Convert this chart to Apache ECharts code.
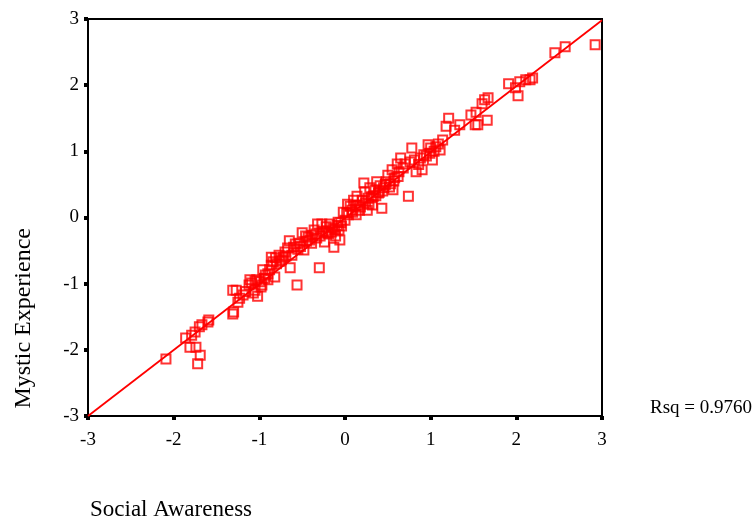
<!DOCTYPE html>
<html>
<head>
<meta charset="utf-8">
<script src="https://cdn.jsdelivr.net/npm/echarts@6/dist/echarts.min.js"></script>
<style>
  html, body { margin: 0; padding: 0; background: #fff; }
  #chart { width: 755px; height: 525px; }
</style>
</head>
<body>
<div id="chart"></div>
<script>
// Social Awareness (x) vs Mystic Experience (y)
const points = [
  [-2.09,-2.14],[-1.86,-1.82],[-1.81,-1.96],[-1.74,-1.96],[-1.72,-2.21],[-1.69,-2.08],
  [-1.79,-1.78],[-1.75,-1.73],[-1.70,-1.65],[-1.67,-1.62],[-1.60,-1.58],[-1.59,-1.55],
  [-1.31,-1.10],[-1.27,-1.10],[-1.30,-1.43],[-1.31,-1.46],[-1.25,-1.28],[-1.23,-1.22],
  [-1.19,-1.17],[-1.16,-1.12],[-1.11,-0.94],[-1.09,-0.99],[-1.05,-1.10],[-1.03,-0.94],
  [-0.99,-0.97],[-1.07,-1.14],[-1.02,-1.19],[-0.97,-1.02],[-0.93,-0.87],[-0.96,-0.79],
  [-0.90,-0.94],[-0.88,-0.79],[-0.84,-0.67],[-0.82,-0.90],[-0.86,-0.60],[-0.81,-0.61],
  [-0.77,-0.57],[-0.74,-0.64],[-0.70,-0.52],[-0.67,-0.46],[-0.65,-0.35],[-0.62,-0.57],
  [-0.64,-0.76],[-0.56,-1.02],[-0.58,-0.40],[-0.53,-0.39],[-0.50,-0.23],[-0.48,-0.49],
  [-0.46,-0.28],[-0.41,-0.34],[-0.39,-0.39],[-0.36,-0.19],[-0.34,-0.25],[-0.32,-0.10],
  [-0.30,-0.76],[-0.29,-0.28],[-0.27,-0.10],[-0.24,-0.37],[-0.22,-0.14],[-0.20,-0.23],
  [-0.18,-0.10],[-0.16,-0.22],[-0.14,-0.16],[-0.13,-0.45],[-0.11,-0.28],[-0.08,-0.07],
  [-0.07,-0.19],[-0.06,-0.34],[-0.04,-0.13],[-0.02,0.08],[0.00,-0.04],[0.02,0.07],
  [0.03,0.20],[0.06,0.17],[0.08,0.11],[0.10,0.26],[0.13,0.04],[0.14,0.32],
  [0.15,0.19],[0.17,0.11],[0.20,0.26],[0.22,0.52],[0.23,0.39],[0.26,0.11],
  [0.27,0.29],[0.29,0.45],[0.32,0.19],[0.33,0.32],[0.35,0.42],[0.37,0.54],
  [0.39,0.37],[0.41,0.48],[0.43,0.14],[0.45,0.45],[0.48,0.54],[0.50,0.64],
  [0.53,0.51],[0.55,0.72],[0.56,0.42],[0.58,0.60],[0.61,0.81],[0.63,0.69],
  [0.65,0.90],[0.68,0.75],[0.70,0.81],[0.74,0.32],[0.76,0.84],[0.78,1.05],
  [0.81,0.87],[0.83,0.69],[0.88,0.90],[0.90,0.72],[0.95,0.93],[0.97,1.10],
  [0.99,0.97],[1.02,0.87],[1.06,1.07],[1.09,1.11],[1.11,1.02],[1.14,1.17],
  [1.18,1.38],[1.21,1.50],[1.28,1.32],[1.34,1.40],[1.47,1.55],[1.53,1.59],
  [1.52,1.40],[1.55,1.40],[1.60,1.72],[1.66,1.47],[1.63,1.78],[1.67,1.81],
  [1.91,2.02],[1.99,1.96],[2.02,1.84],[2.04,2.05],[2.11,2.08],[2.16,2.08],
  [2.19,2.11],[2.45,2.49],[2.57,2.58],[2.92,2.61],
  [-1.12,-1.02],[-1.05,-0.96],[-0.98,-1.05],[-0.94,-0.92],[-0.90,-0.85],[-0.86,-0.72],
  [-0.80,-0.70],[-0.76,-0.66],[-0.72,-0.60],[-0.69,-0.58],[-0.60,-0.45],[-0.55,-0.48],
  [-0.52,-0.44],[-0.45,-0.36],[-0.43,-0.30],[-0.38,-0.27],[-0.33,-0.31],[-0.26,-0.21],
  [-0.22,-0.20],[-0.19,-0.25],[-0.12,-0.18],[-0.09,-0.12],[-0.05,-0.08],[0.04,0.04],
  [0.09,0.08],[0.12,0.18],[0.18,0.16],[0.24,0.22],[0.28,0.20],[0.31,0.30],
  [0.36,0.33],[0.40,0.38],[0.44,0.40],[0.47,0.50],[0.52,0.46],[0.57,0.55],
  [0.62,0.62],[0.86,0.80],[0.92,0.95],[1.00,1.05],[1.04,1.00]
];
// fitted line end points
const fitLine = [[-3, -3.0], [3, 2.98]];
const axisTicks = [-3, -2, -1, 0, 1, 2, 3];
const rsqText = 'Rsq = 0.9760';

const serif = '"Liberation Serif", "DejaVu Serif", serif';

let myChart = echarts.init(document.getElementById('chart'));
let option = {
  animation: false,
  backgroundColor: '#fff',
  grid: {
    left: 88, right: 153, top: 19, bottom: 109,
    show: true,
    borderColor: '#000',
    borderWidth: 2
  },
  xAxis: {
    type: 'value',
    min: axisTicks[0], max: axisTicks[axisTicks.length - 1], interval: 1,
    splitLine: { show: false },
    axisLine: { show: true, onZero: false, lineStyle: { color: '#000', width: 2 } },
    axisTick: { show: true, length: 4, lineStyle: { color: '#000', width: 4 } },
    axisLabel: { color: '#000', fontFamily: serif, fontSize: 19, margin: 15 }
  },
  yAxis: {
    type: 'value',
    min: axisTicks[0], max: axisTicks[axisTicks.length - 1], interval: 1,
    splitLine: { show: false },
    axisLine: { show: true, onZero: false, lineStyle: { color: '#000', width: 2 } },
    axisTick: { show: true, length: 4, lineStyle: { color: '#000', width: 4 } },
    axisLabel: { color: '#000', fontFamily: serif, fontSize: 19, margin: 9 }
  },
  graphic: [
    {
      type: 'text', left: 12, top: 228, rotation: Math.PI / 2,
      style: { text: 'Mystic Experience', font: '24px ' + serif, fill: '#000' }
    },
    {
      type: 'text', left: 90, top: 498,
      style: { text: 'Social Awareness', font: '23px ' + serif, fill: '#000' }
    },
    {
      type: 'text', left: 650, top: 399,
      style: { text: rsqText, font: '19px ' + serif, fill: '#000' }
    }
  ],
  series: [
    {
      type: 'line',
      data: fitLine,
      symbol: 'none',
      lineStyle: { color: '#ff0000', width: 1.8 },
      z: 3
    },
    {
      type: 'scatter',
      data: points,
      symbol: 'rect',
      symbolSize: 9,
      itemStyle: { color: 'transparent', borderColor: '#ff0000', borderWidth: 2 },
      z: 2
    }
  ]
};
myChart.setOption(option);
</script>
</body>
</html>
